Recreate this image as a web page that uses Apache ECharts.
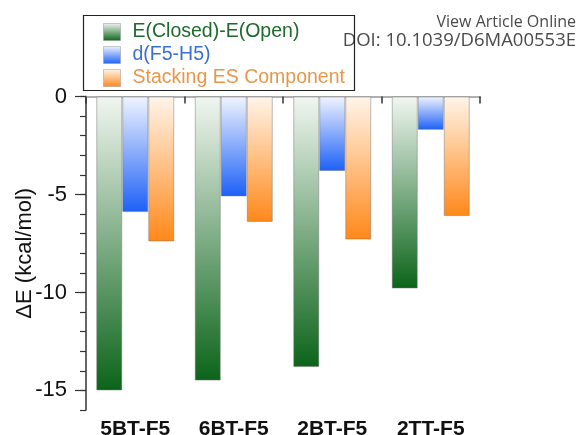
<!DOCTYPE html>
<html>
<head>
<meta charset="utf-8">
<script src="https://cdn.jsdelivr.net/npm/echarts@6/dist/echarts.min.js"></script>
<style>
  html, body { margin: 0; padding: 0; background: #fff; }
  #chart { width: 578px; height: 435px; }
</style>
</head>
<body>
<div id="chart"></div>
<script>
// Systems compared
const categories = ['5BT-F5', '6BT-F5', '2BT-F5', '2TT-F5'];
// Energy terms in kcal/mol
const closedMinusOpen = [-15.0, -14.5, -13.8, -9.8];
const dF5H5 = [-5.9, -5.1, -3.8, -1.7];
const stackingES = [-7.4, -6.4, -7.3, -6.1];
const seriesNames = ['E(Closed)-E(Open)', 'd(F5-H5)', 'Stacking ES Component'];
// Labelled (major) ticks and unlabelled (minor) ticks on the energy axis
const yTicks = [0, -5, -10, -15];
const yMinorTicks = [0, -1, -2, -3, -4, -5, -6, -7, -8, -9, -10, -11, -12, -13, -14, -15, -16];

const FONT = '"Liberation Sans", Arial, sans-serif';

function grad(top, bottom) {
  return new echarts.graphic.LinearGradient(0, 0, 0, 1, [
    { offset: 0, color: top },
    { offset: 1, color: bottom }
  ]);
}

const fills = [
  grad('#f1f6f1', '#0b6419'),
  grad('#f0f4ff', '#1c60f6'),
  grad('#fff5ea', '#ff8819')
];
const textColors = ['#1d6a2c', '#3a6fd8', '#e8974a'];

const chart = echarts.init(document.getElementById('chart'), null, { renderer: 'canvas' });

const barSeries = [closedMinusOpen, dF5H5, stackingES].map((vals, i) => ({
  name: seriesNames[i],
  type: 'bar',
  data: vals,
  barWidth: 26,
  barGap: '0%',
  itemStyle: {
    color: fills[i],
    borderColor: 'rgba(110,110,110,0.45)',
    borderWidth: 1
  }
}));

chart.setOption({
  animation: false,
  backgroundColor: '#ffffff',
  grid: {
    left: 86, right: 98, top: 96.5, bottom: 25,
    containLabel: false, outerBoundsMode: 'none'
  },
  legend: {
    orient: 'vertical',
    left: 98,
    top: 17,
    itemWidth: 17,
    itemHeight: 17,
    itemGap: 3,
    padding: 5,
    icon: 'rect',
    data: seriesNames.map((n, i) => ({
      name: n,
      textStyle: { color: textColors[i] }
    })),
    itemStyle: { borderColor: 'rgba(150,150,150,0.5)', borderWidth: 1 },
    textStyle: { fontFamily: FONT, fontSize: 19.5, padding: [0, 0, 0, 7] }
  },
  xAxis: [{
    type: 'category',
    data: categories,
    position: 'bottom',
    axisLine: { show: true, lineStyle: { color: '#333', width: 1.5 } },
    axisTick: { show: true, length: 7, lineStyle: { color: '#333', width: 1.5 } },
    axisLabel: {
      color: '#111', fontFamily: FONT, fontSize: 21, fontWeight: 'bold', margin: 9
    },
    splitLine: { show: false }
  }, {
    type: 'category',
    data: categories,
    position: 'top',
    axisLine: { show: true, lineStyle: { color: '#c8c8c8', width: 1.5 } },
    axisTick: { show: false },
    axisLabel: { show: false }
  }],
  yAxis: [{
    type: 'value',
    min: -16,
    max: 0,
    axisLine: { show: true, onZero: false, lineStyle: { color: '#333', width: 1.5 } },
    axisTick: {
      show: true, inside: false, length: 11, customValues: yTicks,
      lineStyle: { color: '#333', width: 1.2 }
    },
    splitLine: { show: false },
    axisLabel: {
      color: '#111', fontFamily: FONT, fontSize: 22, margin: 19,
      customValues: yTicks
    },
    name: 'ΔE (kcal/mol)',
    nameLocation: 'middle',
    nameGap: 50,
    nameMoveOverlap: false,
    nameTextStyle: { color: '#111', fontFamily: FONT, fontSize: 22 }
  }, {
    type: 'value',
    min: -16,
    max: 0,
    position: 'left',
    axisLine: { show: false },
    axisTick: {
      show: true, inside: false, length: 6, customValues: yMinorTicks,
      lineStyle: { color: '#333', width: 1.2 }
    },
    axisLabel: { show: false },
    splitLine: { show: false }
  }],
  graphic: [
    {
      type: 'rect',
      left: 81, top: 13,
      shape: { width: 271, height: 75 },
      style: { fill: 'none', stroke: '#222', lineWidth: 1.2 },
      z: 10
    },
    {
      type: 'text',
      right: 2, top: 14,
      style: {
        text: 'View Article Online',
        fill: '#4a4a4a',
        font: '16px "Open Sans", Lato, sans-serif',
        textAlign: 'right'
      }
    },
    {
      type: 'text',
      right: 2, top: 31,
      style: {
        text: 'DOI: 10.1039/D6MA00553E',
        fill: '#4a4a4a',
        font: '18.5px "Open Sans", Lato, sans-serif',
        textAlign: 'right'
      }
    }
  ],
  series: barSeries
});
</script>
</body>
</html>
